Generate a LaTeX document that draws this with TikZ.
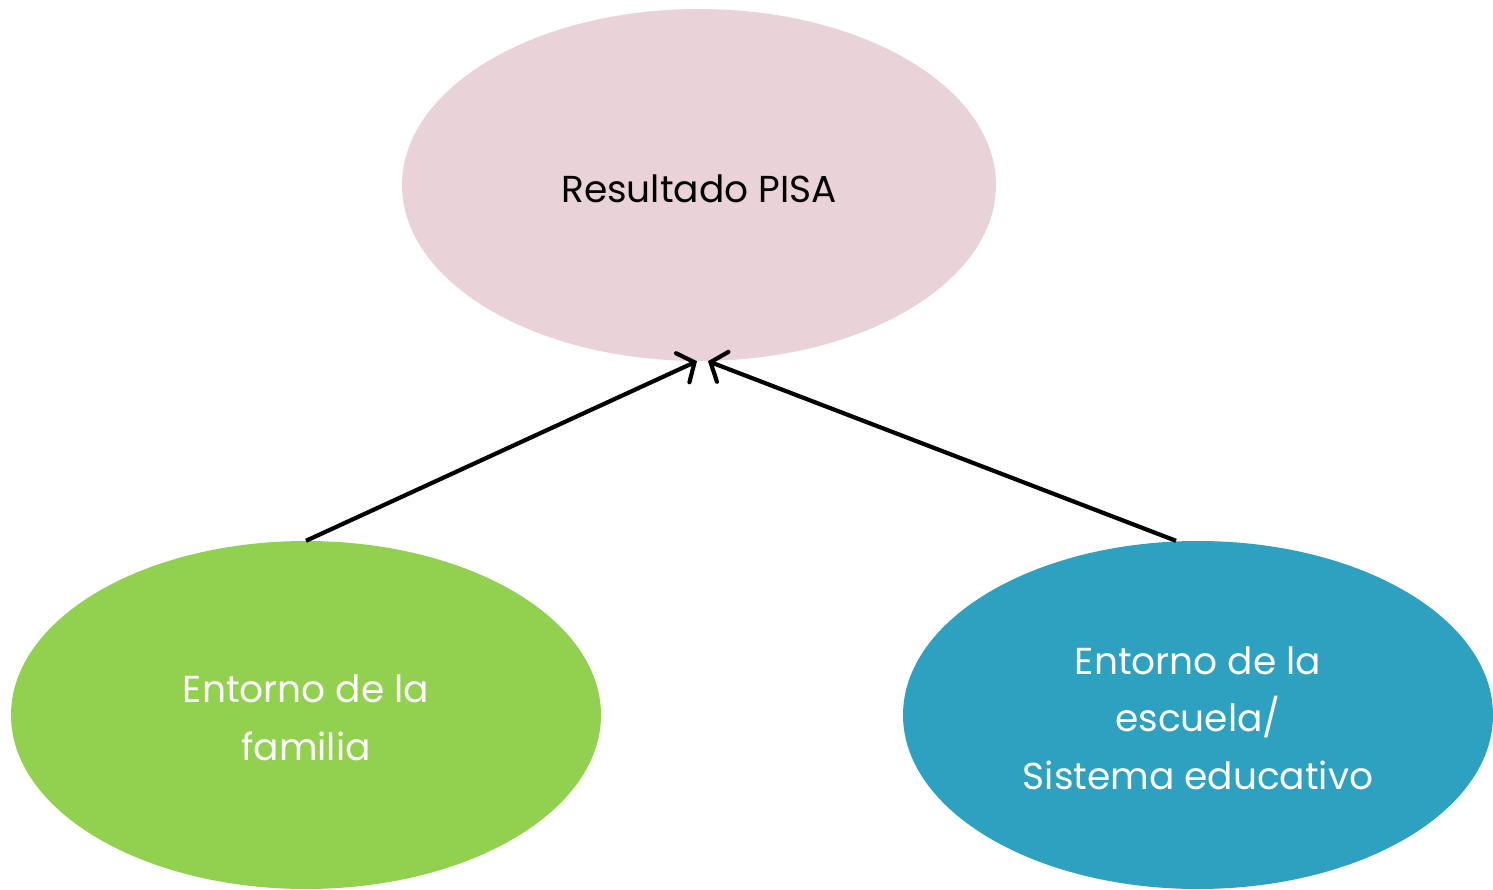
\documentclass[tikz,border=0pt]{standalone}
\usepackage{fontspec}
\setmainfont{Poppins}
\usetikzlibrary{arrows.meta,shapes.geometric,calc}
\definecolor{pinkfill}{HTML}{E9D3D9}
\definecolor{greenfill}{HTML}{92D050}
\definecolor{tealfill}{HTML}{2DA1BF}
\begin{document}
\begin{tikzpicture}[x=1pt,y=-1pt,
  blob/.style={ellipse, draw=none, inner sep=0pt},
  label/.style={align=center, inner sep=0pt, font=\fontsize{37.5}{57.5}\selectfont},
  link/.style={line width=4.2pt, -{Straight Barb[length=13pt,width=32pt,line cap=round]}}]
\useasboundingbox (0,0) rectangle (1493,890);
\node[blob, fill=pinkfill, minimum width=594pt, minimum height=352pt] (top) at (699,185) {};
\node[blob, fill=greenfill, minimum width=590pt, minimum height=348pt] (left) at (306,715) {};
\node[blob, fill=tealfill, minimum width=590pt, minimum height=348pt] (right) at (1198,715) {};
\node[label, text=black] (toptext) at (699,189) {Resultado PISA};
\node[label, text=white] (lefttext) at (306,718) {Entorno de la\\familia};
\node[label, text=white] (righttext) at (1198,718) {Entorno de la\\escuela/\\Sistema educativo};
\draw[link] (left.north) -- ($(top.south)+(-2,0)$);
\draw[link] ($(right.north)+(-22,0)$) -- ($(top.south)+(9,0)$);
\end{tikzpicture}
\end{document}
